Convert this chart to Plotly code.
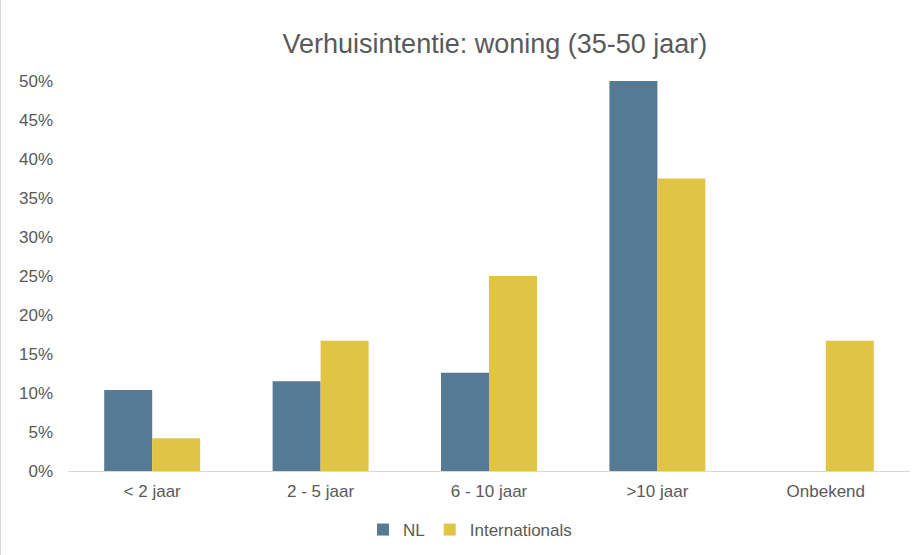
import plotly.graph_objects as go

categories = ["< 2 jaar", "2 - 5 jaar", "6 - 10 jaar", ">10 jaar", "Onbekend"]
nl_values = [0.104, 0.115, 0.126, 0.50, 0.0]
int_values = [0.042, 0.167, 0.25, 0.375, 0.167]

W, H = 923, 555
ml, mr, mt, mb = 68, 13, 81, 84
pw, ph = W - ml - mr, H - mt - mb

fig = go.Figure()
fig.add_trace(go.Bar(name="NL", x=categories, y=nl_values, marker_color="#557A94",
                     marker_line_width=0))
fig.add_trace(go.Bar(name="Internationals", x=categories, y=int_values, marker_color="#E1C444",
                     marker_line_width=0))

fig.update_layout(
    width=W, height=H,
    margin=dict(l=ml, r=mr, t=mt, b=mb, autoexpand=False),
    paper_bgcolor="white", plot_bgcolor="white",
    barmode="group", bargap=0.43, bargroupgap=0,
    font=dict(family="Liberation Sans, Arial, sans-serif", color="#595959", size=17),
    title=dict(text="Verhuisintentie: woning (35-50 jaar)", x=468 / W, xanchor="center",
               xref="paper", y=1 - 44 / H, yanchor="middle",
               font=dict(size=27, color="#595959")),
    showlegend=True,
    legend=dict(orientation="h", x=(470 - ml) / pw, xanchor="center",
                y=-(530 - 471) / ph, yanchor="middle",
                font=dict(size=17, color="#595959"), itemwidth=30, traceorder="normal"),
    xaxis=dict(showline=True, linecolor="#D9D9D9", linewidth=1, ticks="", showgrid=False,
               automargin=False, ticklabelstandoff=5,
               tickfont=dict(size=17, color="#595959")),
    yaxis=dict(range=[0, 0.5], dtick=0.05, tickformat=".0%", showgrid=False, showline=False,
               zeroline=False, ticks="", automargin=False, ticklabelstandoff=14,
               tickfont=dict(size=17, color="#595959")),
)

fig.add_shape(type="line", xref="paper", yref="paper",
              x0=(0.5 - ml) / pw, x1=(0.5 - ml) / pw,
              y0=-mb / ph, y1=1 + mt / ph,
              line=dict(color="#D9D9D9", width=1), layer="below")

fig.write_html("out.html", config={"displayModeBar": False})

with open("out.html", "r", encoding="utf-8") as f:
    html = f.read()
html = html.replace("<head>", "<head><style>html,body{margin:0;padding:0;overflow:hidden;}</style>", 1)
with open("out.html", "w", encoding="utf-8") as f:
    f.write(html)
